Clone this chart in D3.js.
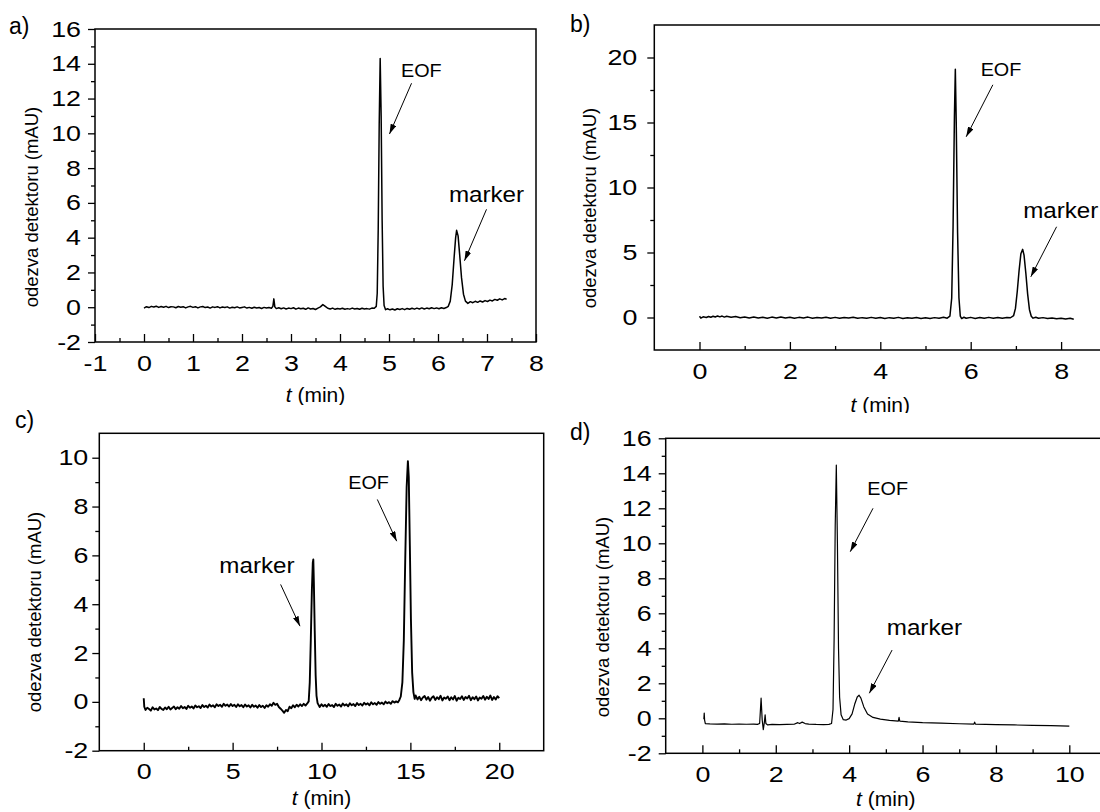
<!DOCTYPE html>
<html>
<head>
<meta charset="utf-8">
<script src="https://cdnjs.cloudflare.com/ajax/libs/d3/7.8.5/d3.min.js"></script>
<style>
  body { margin: 0; background: #fff; }
  svg { display: block; }
  text { font-family: "Liberation Sans", Arial, sans-serif; fill: #000; }
</style>
</head>
<body>
<div id="chart"></div>
<script>
// ---- data: [t (min), odezva (mAU)] ----
const traceA = [
  [0.00,-0.05],[0.05,0.03],[0.10,-0.02],[0.15,0.05],[0.20,0.01],[0.25,0.06],[0.30,-0.01],[0.35,0.04],
  [0.40,0.00],[0.45,0.05],[0.50,-0.02],[0.55,0.03],[0.60,0.02],[0.65,-0.03],[0.70,0.04],[0.75,0.00],
  [0.80,0.03],[0.85,-0.04],[0.90,0.02],[0.95,0.05],[1.00,-0.01],[1.05,0.03],[1.10,-0.04],[1.15,0.02],
  [1.20,0.04],[1.25,-0.02],[1.30,0.01],[1.35,-0.05],[1.40,0.02],[1.45,-0.01],[1.50,0.03],[1.55,-0.04],
  [1.60,0.01],[1.65,-0.02],[1.70,0.02],[1.75,-0.05],[1.80,0.00],[1.85,-0.03],[1.90,0.02],[1.95,-0.04],
  [2.00,-0.01],[2.05,0.02],[2.10,-0.05],[2.15,-0.01],[2.20,-0.06],[2.25,0.00],[2.30,-0.04],[2.35,-0.02],
  [2.40,-0.07],[2.45,-0.01],[2.50,-0.05],[2.55,-0.02],[2.60,-0.06],[2.63,0.05],[2.65,0.48],[2.67,0.02],
  [2.70,-0.08],[2.75,-0.03],[2.80,-0.09],[2.85,-0.04],[2.90,-0.10],[2.95,-0.05],[3.00,-0.08],[3.05,-0.03],
  [3.10,-0.11],[3.15,-0.05],[3.20,-0.09],[3.25,-0.06],[3.30,-0.12],[3.35,-0.04],[3.40,-0.10],[3.45,-0.07],
  [3.50,-0.13],[3.55,-0.05],[3.60,0.02],[3.65,0.15],[3.70,0.05],[3.75,-0.06],[3.80,-0.10],[3.85,-0.05],
  [3.90,-0.12],[3.95,-0.07],[4.00,-0.10],[4.05,-0.06],[4.10,-0.12],[4.15,-0.08],[4.20,-0.11],[4.25,-0.05],
  [4.30,-0.10],[4.35,-0.07],[4.40,-0.12],[4.45,-0.06],[4.50,-0.10],[4.55,-0.08],[4.60,-0.11],[4.65,-0.05],
  [4.70,-0.06],[4.74,0.05],[4.76,0.8],[4.78,4.5],[4.80,10.5],[4.82,14.3],[4.84,11.0],[4.86,5.0],
  [4.88,1.2],[4.90,0.1],[4.93,-0.14],[4.97,-0.09],[5.02,-0.15],[5.07,-0.10],[5.12,-0.16],[5.17,-0.09],
  [5.22,-0.13],[5.27,-0.08],[5.32,-0.14],[5.37,-0.07],[5.42,-0.12],[5.47,-0.06],[5.52,-0.11],[5.57,-0.05],
  [5.62,-0.10],[5.67,-0.04],[5.72,-0.10],[5.77,-0.05],[5.82,-0.09],[5.87,-0.03],[5.92,-0.08],[5.97,-0.04],
  [6.02,-0.09],[6.07,-0.03],[6.12,-0.07],[6.17,-0.02],[6.21,0.05],[6.25,0.35],[6.29,1.3],[6.33,2.9],
  [6.36,4.0],[6.38,4.42],[6.41,4.1],[6.44,3.1],[6.48,1.7],[6.52,0.75],[6.56,0.35],[6.61,0.22],
  [6.66,0.32],[6.71,0.26],[6.76,0.34],[6.81,0.28],[6.86,0.36],[6.91,0.30],[6.96,0.38],[7.01,0.33],
  [7.06,0.41],[7.11,0.36],[7.16,0.45],[7.21,0.40],[7.26,0.48],[7.31,0.42],[7.36,0.50],[7.40,0.46]
];

const traceB = [
  [0.00,0.10],[0.03,-0.05],[0.08,0.05],[0.15,0.00],[0.20,0.08],[0.25,0.02],[0.30,0.10],[0.35,0.04],
  [0.40,0.12],[0.45,0.05],[0.50,0.11],[0.55,0.03],[0.60,0.09],[0.70,0.02],[0.80,0.07],[0.90,-0.02],
  [1.00,0.04],[1.10,-0.03],[1.20,0.03],[1.30,-0.04],[1.40,0.02],[1.50,-0.05],[1.60,0.03],[1.70,-0.03],
  [1.80,0.04],[1.90,-0.04],[2.00,0.02],[2.10,-0.05],[2.20,0.01],[2.30,-0.03],[2.40,0.03],[2.50,-0.05],
  [2.60,0.00],[2.70,-0.04],[2.80,0.02],[2.90,-0.05],[3.00,0.01],[3.10,-0.06],[3.20,0.00],[3.30,-0.04],
  [3.40,0.02],[3.50,-0.06],[3.60,-0.01],[3.70,-0.05],[3.80,0.01],[3.90,-0.06],[4.00,0.00],[4.10,-0.07],
  [4.20,-0.01],[4.30,-0.05],[4.40,0.01],[4.50,-0.07],[4.60,-0.02],[4.70,-0.06],[4.80,0.00],[4.90,-0.07],
  [5.00,-0.02],[5.10,-0.08],[5.20,-0.01],[5.30,-0.06],[5.40,0.02],[5.48,-0.05],[5.54,0.1],[5.58,1.5],
  [5.61,7.0],[5.64,15.5],[5.66,19.1],[5.68,15.0],[5.71,6.5],[5.74,1.5],[5.77,0.1],[5.80,-0.08],
  [5.85,0.02],[5.90,-0.06],[6.00,0.01],[6.10,-0.07],[6.20,0.00],[6.30,-0.06],[6.40,0.01],[6.50,-0.05],
  [6.60,0.00],[6.70,-0.06],[6.80,0.00],[6.88,-0.02],[6.95,0.15],[6.99,0.7],[7.03,2.0],[7.07,3.6],
  [7.11,4.9],[7.15,5.24],[7.18,4.8],[7.22,3.4],[7.26,1.8],[7.30,0.6],[7.34,0.1],[7.38,-0.05],
  [7.44,0.02],[7.50,-0.06],[7.60,-0.01],[7.70,-0.08],[7.80,-0.03],[7.90,-0.10],[8.00,-0.05],[8.10,-0.12],
  [8.20,-0.06],[8.28,-0.13]
];

const traceC = [
  [0.00,0.15],[0.03,-0.20],[0.1,-0.33],[0.2,-0.24],[0.3,-0.29],[0.4,-0.36],[0.5,-0.22],[0.6,-0.31],
  [0.7,-0.27],[0.8,-0.34],[0.9,-0.21],[1.0,-0.29],[1.1,-0.33],[1.2,-0.23],[1.3,-0.30],[1.4,-0.20],
  [1.5,-0.31],[1.6,-0.25],[1.7,-0.19],[1.8,-0.30],[1.9,-0.22],[2.0,-0.28],[2.1,-0.17],[2.2,-0.26],
  [2.3,-0.21],[2.4,-0.29],[2.5,-0.16],[2.6,-0.24],[2.7,-0.19],[2.8,-0.27],[2.9,-0.15],[3.0,-0.22],
  [3.1,-0.18],[3.2,-0.25],[3.3,-0.13],[3.4,-0.21],[3.5,-0.16],[3.6,-0.23],[3.7,-0.11],[3.8,-0.19],
  [3.9,-0.14],[4.0,-0.22],[4.1,-0.10],[4.2,-0.17],[4.3,-0.12],[4.4,-0.20],[4.5,-0.08],[4.6,-0.16],
  [4.7,-0.11],[4.8,-0.19],[4.9,-0.09],[5.0,-0.17],[5.1,-0.12],[5.2,-0.21],[5.3,-0.10],[5.4,-0.18],
  [5.5,-0.13],[5.6,-0.22],[5.7,-0.11],[5.8,-0.19],[5.9,-0.14],[6.0,-0.23],[6.1,-0.12],[6.2,-0.20],
  [6.3,-0.15],[6.4,-0.24],[6.5,-0.13],[6.6,-0.21],[6.7,-0.16],[6.8,-0.25],[6.9,-0.14],[7.0,-0.20],
  [7.1,-0.10],[7.2,-0.16],[7.3,-0.04],[7.4,-0.12],[7.5,-0.08],[7.6,-0.21],[7.7,-0.28],[7.8,-0.36],
  [7.9,-0.45],[8.0,-0.33],[8.1,-0.38],[8.2,-0.20],[8.3,-0.26],[8.4,-0.14],[8.5,-0.22],[8.6,-0.12],
  [8.7,-0.19],[8.8,-0.10],[8.9,-0.17],[9.0,-0.08],[9.1,-0.15],[9.2,-0.06],[9.28,0.02],[9.34,0.8],
  [9.40,2.6],[9.46,4.6],[9.51,5.7],[9.54,5.83],[9.57,4.9],[9.62,2.9],[9.67,1.1],[9.72,0.25],
  [9.78,-0.05],[9.9,-0.21],[10.0,-0.10],[10.1,-0.18],[10.2,-0.12],[10.3,-0.20],[10.4,-0.09],[10.5,-0.17],
  [10.6,-0.13],[10.7,-0.21],[10.8,-0.08],[10.9,-0.16],[11.0,-0.11],[11.1,-0.19],[11.2,-0.07],[11.3,-0.15],
  [11.4,-0.10],[11.5,-0.18],[11.6,-0.06],[11.7,-0.14],[11.8,-0.09],[11.9,-0.17],[12.0,-0.05],[12.1,-0.13],
  [12.2,-0.08],[12.3,-0.15],[12.4,-0.04],[12.5,-0.11],[12.6,-0.06],[12.7,-0.14],[12.8,-0.02],[12.9,-0.10],
  [13.0,-0.05],[13.1,-0.12],[13.2,-0.01],[13.3,-0.08],[13.4,-0.03],[13.5,-0.10],[13.6,0.01],[13.7,-0.06],
  [13.8,-0.01],[13.9,-0.08],[14.0,0.03],[14.1,-0.03],[14.2,0.02],[14.3,-0.02],[14.38,0.08],[14.46,0.22],
  [14.55,0.8],[14.63,2.5],[14.71,5.8],[14.79,8.8],[14.86,9.86],[14.91,9.2],[14.97,6.4],[15.03,3.4],
  [15.10,1.2],[15.17,0.4],[15.24,0.12],[15.3,0.26],[15.4,0.10],[15.5,0.21],[15.6,0.07],[15.7,0.18],
  [15.8,0.24],[15.9,0.09],[16.0,0.20],[16.1,0.05],[16.2,0.17],[16.3,0.23],[16.4,0.08],[16.5,0.19],
  [16.6,0.11],[16.7,0.25],[16.8,0.06],[16.9,0.18],[17.0,0.13],[17.1,0.22],[17.2,0.07],[17.3,0.19],
  [17.4,0.10],[17.5,0.24],[17.6,0.05],[17.7,0.17],[17.8,0.12],[17.9,0.23],[18.0,0.08],[18.1,0.20],
  [18.2,0.14],[18.3,0.25],[18.4,0.07],[18.5,0.19],[18.6,0.11],[18.7,0.22],[18.8,0.06],[18.9,0.18],
  [19.0,0.13],[19.1,0.24],[19.2,0.09],[19.3,0.21],[19.4,0.12],[19.5,0.26],[19.6,0.08],[19.7,0.20],
  [19.8,0.10],[19.9,0.23],[20.0,0.15]
];

const traceD = [
  [0.04,-0.05],[0.05,0.30],[0.06,-0.10],[0.08,-0.30],[0.2,-0.32],[0.4,-0.33],[0.6,-0.32],[0.8,-0.34],
  [1.0,-0.33],[1.2,-0.34],[1.4,-0.33],[1.5,-0.35],[1.56,-0.30],[1.60,1.15],[1.63,-0.10],[1.66,-0.65],
  [1.69,-0.20],[1.71,0.20],[1.73,-0.30],[1.78,-0.38],[1.9,-0.35],[2.1,-0.36],[2.3,-0.35],[2.5,-0.34],
  [2.6,-0.25],[2.65,-0.30],[2.72,-0.22],[2.8,-0.30],[2.9,-0.33],[3.1,-0.35],[3.3,-0.36],[3.45,-0.35],
  [3.52,-0.30],[3.56,0.5],[3.59,4.5],[3.62,11.0],[3.65,14.47],[3.68,10.0],[3.71,4.0],[3.74,1.2],
  [3.78,0.2],[3.84,-0.08],[3.92,-0.10],[4.00,-0.02],[4.08,0.25],[4.15,0.80],[4.22,1.22],[4.27,1.32],
  [4.32,1.15],[4.40,0.65],[4.50,0.25],[4.65,0.05],[4.85,-0.05],[5.1,-0.12],[5.34,-0.16],[5.36,0.05],
  [5.38,-0.16],[5.6,-0.20],[6.0,-0.25],[6.5,-0.28],[7.0,-0.31],[7.4,-0.33],[7.42,-0.22],[7.44,-0.33],
  [8.0,-0.36],[8.5,-0.38],[9.0,-0.40],[9.5,-0.42],[10.0,-0.45]
];

// tick values
const aXTicks = [-1, 0, 1, 2, 3, 4, 5, 6, 7, 8];
const aXMinor = [-0.5, 0.5, 1.5, 2.5, 3.5, 4.5, 5.5, 6.5, 7.5];
const aYTicks = [-2, 0, 2, 4, 6, 8, 10, 12, 14, 16];
const aYMinor = [-1, 1, 3, 5, 7, 9, 11, 13, 15];

const bXTicks = [0, 2, 4, 6, 8];
const bXMinor = [1, 3, 5, 7];
const bYTicks = [0, 5, 10, 15, 20];
const bYMinor = [2.5, 7.5, 12.5, 17.5];

const cXTicks = [0, 5, 10, 15, 20];
const cXMinor = [2.5, 7.5, 12.5, 17.5];
const cYTicks = [-2, 0, 2, 4, 6, 8, 10];
const cYMinor = [-1, 1, 3, 5, 7, 9];

const dXTicks = [0, 2, 4, 6, 8, 10];
const dXMinor = [1, 3, 5, 7, 9];
const dYTicks = [-2, 0, 2, 4, 6, 8, 10, 12, 14, 16];
const dYMinor = [-1, 1, 3, 5, 7, 9, 11, 13, 15];

const panelNames = ['a)', 'b)', 'c)', 'd)'];
const yTitle = 'odezva detektoru (mAU)';

// ---- layout ----
const W = 1100, H = 812;
const TICK_STRETCH = 1.22; // tick numbers in the figure are drawn wide
const NOTE_STRETCH = 1.1;

const panels = [
  { name: panelNames[0], data: traceA, box: [95, 536, 29, 342], xDom: [-1, 8], yDom: [-2, 16],
    xt: aXTicks, xm: aXMinor, yt: aYTicks, ym: aYMinor, yGap: 7,
    lab: [9, 34], yTitle: [31.5, 207], xTitleY: 402, clip: [0, 0, 550, 405], lw: 1.5,
    ann: [
      { text: 'EOF', fs: 18, anchor: 'middle', tx: 5.66, ty: 13.25, a: [5.46, 12.88, 5.01, 9.96] },
      { text: 'marker', fs: 22, anchor: 'middle', tx: 6.99, ty: 6.07, a: [6.99, 5.63, 6.54, 2.67] }
    ] },
  { name: panelNames[1], data: traceB, box: [654.3, 1106.3, 25, 350], xDom: [-1, 9], yDom: [-2.5, 22.5],
    xt: bXTicks, xm: bXMinor, yt: bYTicks, ym: bYMinor, yGap: 10,
    lab: [570, 32], yTitle: [590, 208], xTitleY: 412, clip: [550, 0, 550, 413], lw: 1.5,
    ann: [
      { text: 'EOF', fs: 18, anchor: 'middle', tx: 6.67, ty: 18.54, a: [6.49, 17.9, 5.9, 13.9] },
      { text: 'marker', fs: 22, anchor: 'start', tx: 7.16, ty: 7.63, a: [7.9, 6.98, 7.33, 3.13] }
    ] },
  { name: panelNames[2], data: traceC, box: [99.3, 543.7, 433.3, 750.7], xDom: [-2.5, 22.5], yDom: [-2, 11],
    xt: cXTicks, xm: cXMinor, yt: cYTicks, ym: cYMinor, yGap: 4,
    lab: [15, 428], yTitle: [35, 612], xTitleY: 805, clip: null, lw: 1.9,
    ann: [
      { text: 'marker', fs: 22, anchor: 'middle', tx: 6.37, ty: 5.26, a: [7.7, 4.81, 8.79, 3.1] },
      { text: 'EOF', fs: 18, anchor: 'middle', tx: 12.65, ty: 8.7, a: [13.14, 8.29, 14.23, 6.58] }
    ] },
  { name: panelNames[3], data: traceD, box: [665.7, 1106, 438.3, 753.3], xDom: [-1, 11], yDom: [-2, 16],
    xt: dXTicks, xm: dXMinor, yt: dYTicks, ym: dYMinor, yGap: 7,
    lab: [570, 440], yTitle: [602.5, 617], xTitleY: 806, clip: null, lw: 1.2,
    ann: [
      { text: 'EOF', fs: 18, anchor: 'middle', tx: 5.05, ty: 12.76, a: [4.65, 12.0, 4.03, 9.52] },
      { text: 'marker', fs: 22, anchor: 'middle', tx: 6.05, ty: 4.76, a: [5.17, 3.9, 4.55, 1.43] }
    ] }
];

const svg = d3.select('#chart').append('svg')
  .attr('width', W)
  .attr('height', H);

const defs = svg.append('defs');
defs.append('marker')
  .attr('id', 'head')
  .attr('viewBox', '0 0 10 6')
  .attr('refX', 10)
  .attr('refY', 3)
  .attr('markerUnits', 'userSpaceOnUse')
  .attr('markerWidth', 10)
  .attr('markerHeight', 6)
  .attr('orient', 'auto')
  .append('path')
  .attr('d', 'M0,0 L10,3 L0,6 Z')
  .attr('fill', '#000');

// widen a text element around its anchor point
function widen(sel, s) {
  sel.each(function () {
    const t = d3.select(this);
    const x = +t.attr('x') || 0, y = +t.attr('y') || 0;
    t.attr('x', 0).attr('y', 0).attr('transform', `translate(${x},${y}) scale(${s},1)`);
  });
}

function styleAxis(g, withText) {
  g.select('.domain').remove();
  g.selectAll('.tick line').attr('stroke', '#000').attr('stroke-width', 1.3);
  if (withText) {
    g.selectAll('.tick text')
      .attr('font-size', 22)
      .attr('font-family', '"Liberation Sans", Arial, sans-serif')
      .attr('fill', '#000');
    widen(g.selectAll('.tick text'), TICK_STRETCH);
  }
}

panels.forEach((p, i) => {
  const [L, R, T, B] = p.box;
  const x = d3.scaleLinear().domain(p.xDom).range([L, R]);
  const y = d3.scaleLinear().domain(p.yDom).range([B, T]);

  let g = svg.append('g');
  if (p.clip) {
    defs.append('clipPath').attr('id', 'tile' + i)
      .append('rect').attr('x', p.clip[0]).attr('y', p.clip[1])
      .attr('width', p.clip[2]).attr('height', p.clip[3]);
    g.attr('clip-path', `url(#tile${i})`);
  }

  // trace
  g.append('path')
    .datum(p.data)
    .attr('d', d3.line().x(d => x(d[0])).y(d => y(d[1])))
    .attr('fill', 'none')
    .attr('stroke', '#000')
    .attr('stroke-width', p.lw)
    .attr('stroke-linejoin', 'round');

  // y axis: outward ticks
  const ya = g.append('g').attr('transform', `translate(${L},0)`)
    .call(d3.axisLeft(y).tickValues(p.yt).tickSize(7).tickPadding(p.yGap).tickFormat(d => String(d)));
  styleAxis(ya, true);
  const ym = g.append('g').attr('transform', `translate(${L},0)`)
    .call(d3.axisLeft(y).tickValues(p.ym).tickSize(4).tickFormat(''));
  styleAxis(ym, false);

  // x axis: inward ticks
  const xa = g.append('g').attr('transform', `translate(0,${B})`)
    .call(d3.axisBottom(x).tickValues(p.xt).tickSizeInner(-8).tickSizeOuter(0).tickPadding(13).tickFormat(d => String(d)));
  styleAxis(xa, true);
  const xm = g.append('g').attr('transform', `translate(0,${B})`)
    .call(d3.axisBottom(x).tickValues(p.xm).tickSizeInner(-4).tickSizeOuter(0).tickFormat(''));
  styleAxis(xm, false);

  // frame
  g.append('rect')
    .attr('x', L).attr('y', T)
    .attr('width', R - L).attr('height', B - T)
    .attr('fill', 'none')
    .attr('stroke', '#000')
    .attr('stroke-width', 1.5);

  // annotations
  p.ann.forEach(a => {
    const t = g.append('text')
      .attr('x', x(a.tx)).attr('y', y(a.ty))
      .attr('text-anchor', a.anchor)
      .attr('font-size', a.fs)
      .text(a.text);
    widen(t, NOTE_STRETCH);
    g.append('line')
      .attr('x1', x(a.a[0])).attr('y1', y(a.a[1]))
      .attr('x2', x(a.a[2])).attr('y2', y(a.a[3]))
      .attr('stroke', '#000')
      .attr('stroke-width', 1)
      .attr('marker-end', 'url(#head)');
  });

  // axis titles
  const xt = g.append('text')
    .attr('x', (L + R) / 2).attr('y', p.xTitleY)
    .attr('text-anchor', 'middle')
    .attr('font-size', 21);
  xt.append('tspan').attr('font-style', 'italic').text('t');
  xt.append('tspan').text(' (min)');

  g.append('text')
    .attr('transform', `translate(${p.yTitle[0]},${p.yTitle[1]}) rotate(-90)`)
    .attr('text-anchor', 'middle')
    .attr('dy', '0.35em')
    .attr('font-size', 18.5)
    .text(yTitle);

  // panel letter
  svg.append('text')
    .attr('x', p.lab[0]).attr('y', p.lab[1])
    .attr('font-family', '"Liberation Serif", "Times New Roman", serif')
    .attr('font-size', 23)
    .text(p.name);
});
</script>
</body>
</html>
